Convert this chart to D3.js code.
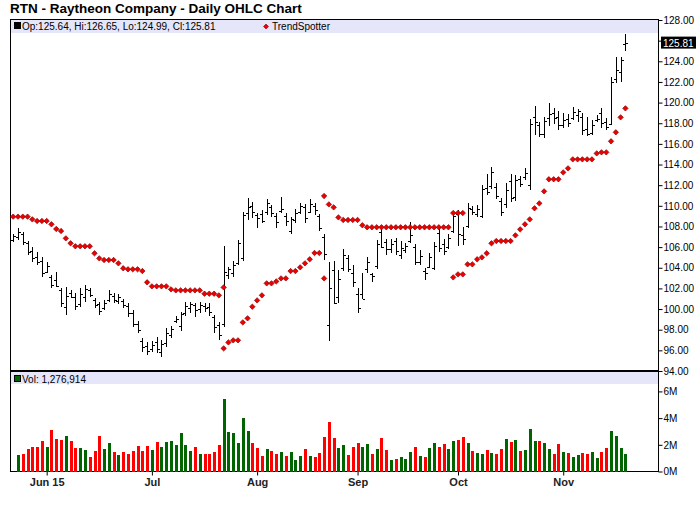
<!DOCTYPE html>
<html>
<head>
<meta charset="utf-8">
<script src="https://cdn.jsdelivr.net/npm/d3@7"></script>
<style>
  body { margin: 0; background: #fff; }
  text { font-family: "Liberation Sans", Arial, sans-serif; }
</style>
</head>
<body>
<script>
// RTN daily OHLC, 2015-05-20 .. 2015-11-19
var firstDay = new Date(2015, 4, 20),
    lastDay = new Date(2015, 10, 19);
var holidays = ["2015-05-25", "2015-07-03", "2015-09-07"];

var opens = [
  106.7, 107.0, 107.3, 106.4, 105.6, 105.0, 104.7, 103.6, 103.1, 102.8,
  101.8, 100.2, 101.6, 101.2, 100.5, 101.2, 101.8, 100.9, 100.5, 100.1,
  100.9, 101.3, 100.8, 100.8, 100.3, 99.6, 98.6, 96.9, 96.4, 96.1,
  96.8, 95.8, 96.7, 97.5, 98.8, 98.4, 99.6, 100.1, 100.4, 100.0,
  100.3, 100.2, 99.2, 98.5, 98.6, 103.3, 103.5, 104.5, 104.9, 109.3,
  110.0, 109.1, 109.2, 109.4, 109.9, 109.0, 109.5, 109.0, 107.6, 108.6,
  109.4, 109.9, 109.4, 110.0, 109.0, 107.0, 98.5, 103.8, 101.2, 104.0,
  104.9, 103.5, 101.5, 101.5, 103.9, 103.4, 104.2, 107.5, 106.5, 105.8,
  106.6, 105.2, 105.7, 106.6, 106.0, 104.6, 103.7, 104.1, 104.0, 107.4,
  106.3, 106.0, 107.6, 109.2, 107.2, 108.0, 109.7, 109.2, 109.0, 111.7,
  111.9, 111.8, 110.5, 110.2, 112.4, 110.9, 112.6, 112.8, 112.0, 118.6,
  117.8, 117.0, 118.5, 119.0, 118.6, 117.8, 118.4, 118.5, 118.8, 118.6,
  117.4, 117.1, 118.3, 119.0, 118.1, 117.9, 122.3, 123.0, 125.64
];
var highs = [
  107.24, 107.82, 107.50, 106.59, 106.04, 105.56, 105.08, 104.59, 103.30, 103.62,
  102.01, 102.17, 101.85, 101.52, 102.01, 102.33, 102.01, 101.04, 100.72, 100.88,
  101.85, 101.52, 101.43, 100.95, 100.55, 99.91, 98.87, 97.16, 96.84, 96.94,
  97.32, 97.00, 98.13, 98.36, 99.32, 99.74, 100.71, 100.71, 100.62, 100.71,
  100.55, 100.55, 99.42, 98.78, 106.11, 104.10, 104.65, 106.69, 109.37, 110.72,
  110.40, 109.27, 109.59, 110.63, 110.08, 109.27, 110.89, 109.27, 108.88, 109.66,
  110.30, 110.14, 110.63, 110.24, 109.17, 107.25, 104.59, 104.65, 103.78, 105.80,
  105.24, 104.30, 102.00, 103.52, 105.00, 103.54, 106.65, 107.82, 106.79, 106.79,
  106.92, 106.60, 106.37, 108.40, 106.27, 105.72, 103.95, 105.40, 106.53, 107.89,
  106.79, 107.24, 109.50, 109.60, 107.92, 110.30, 109.98, 110.08, 112.02, 113.05,
  113.79, 112.18, 110.72, 112.18, 113.08, 112.99, 112.92, 113.70, 118.41, 119.67,
  118.09, 118.64, 119.93, 119.44, 119.19, 118.96, 118.86, 119.54, 119.35, 118.96,
  118.57, 118.31, 118.80, 119.44, 118.47, 122.51, 124.45, 124.45, 126.65
];
var lows = [
  106.46, 106.69, 106.21, 105.24, 104.59, 104.27, 103.14, 103.46, 102.01, 102.17,
  100.23, 99.42, 101.04, 99.91, 100.23, 100.72, 101.20, 100.07, 99.42, 99.91,
  100.72, 100.56, 100.46, 100.07, 99.26, 98.29, 97.65, 95.87, 95.55, 95.87,
  95.71, 95.39, 96.35, 97.16, 98.68, 97.90, 99.32, 99.58, 99.26, 99.65,
  99.74, 99.32, 97.65, 97.00, 98.29, 102.88, 103.14, 104.27, 104.69, 108.63,
  108.79, 107.88, 108.37, 109.11, 108.88, 107.82, 109.27, 108.08, 107.24, 108.30,
  109.17, 108.37, 109.27, 109.11, 107.59, 104.78, 96.90, 100.49, 100.55, 103.70,
  103.62, 102.17, 99.65, 100.94, 103.54, 102.62, 103.85, 105.89, 105.24, 105.40,
  105.24, 104.85, 105.40, 106.37, 104.27, 104.27, 102.82, 103.95, 103.79, 105.56,
  105.24, 105.82, 107.34, 106.14, 106.21, 107.82, 109.11, 108.95, 108.85, 111.05,
  111.63, 110.66, 109.05, 109.82, 110.40, 110.47, 111.86, 112.50, 111.53, 116.86,
  116.70, 116.60, 117.76, 117.90, 117.35, 117.51, 117.67, 118.31, 118.15, 116.86,
  116.76, 116.86, 118.15, 117.51, 117.34, 117.83, 121.86, 122.03, 124.99
];
var closes = [
  107.1, 107.5, 106.5, 105.5, 104.9, 104.6, 103.5, 104.2, 102.3, 102.2,
  100.6, 101.3, 101.2, 100.3, 101.5, 101.9, 101.4, 100.4, 99.8, 100.6,
  101.5, 100.9, 101.2, 100.4, 99.6, 98.6, 98.0, 96.3, 95.9, 96.5,
  96.1, 96.6, 97.7, 98.1, 99.0, 99.5, 100.3, 100.5, 99.9, 100.4,
  100.1, 99.7, 98.3, 97.5, 103.6, 103.9, 104.3, 106.4, 109.1, 109.9,
  109.4, 108.8, 108.5, 110.3, 109.3, 108.4, 109.7, 108.5, 108.7, 109.3,
  110.0, 108.8, 110.2, 109.6, 107.9, 105.3, 102.0, 100.6, 102.9, 105.2,
  103.9, 102.6, 100.1, 101.0, 104.6, 103.2, 106.3, 106.0, 105.8, 106.3,
  105.6, 105.9, 106.1, 107.2, 104.6, 105.1, 103.5, 105.0, 106.1, 105.9,
  105.6, 106.9, 109.0, 107.3, 106.8, 109.8, 109.4, 109.7, 111.6, 111.3,
  113.3, 111.0, 109.4, 111.5, 110.8, 112.5, 112.1, 113.2, 117.9, 118.1,
  117.0, 118.2, 118.9, 118.5, 117.8, 118.3, 118.0, 119.1, 119.2, 117.3,
  117.0, 117.8, 118.4, 118.0, 117.6, 122.0, 123.2, 124.1, 125.81
];
// volume in millions of shares (first day not shown)
var volumes = [
  null, 1.24, 1.31, 1.69, 1.84, 1.84, 2.28, 1.84, 3.11, 2.43,
  2.36, 2.66, 2.28, 1.76, 1.76, 1.61, 1.09, 1.54, 2.66, 1.69,
  2.13, 1.46, 1.24, 1.46, 1.31, 1.54, 1.91, 1.54, 1.91, 1.61,
  2.21, 1.84, 2.21, 2.28, 1.99, 2.88, 1.99, 1.54, 1.84, 1.31,
  1.31, 1.31, 1.46, 1.99, 5.43, 2.96, 2.88, 2.13, 4.01, 3.03,
  2.13, 1.76, 1.16, 1.69, 1.54, 1.31, 1.46, 1.16, 1.46, 0.86,
  1.16, 1.69, 1.16, 1.09, 1.39, 2.58, 3.71, 2.51, 1.76, 1.99,
  1.24, 1.84, 2.13, 1.84, 2.06, 1.31, 1.69, 2.51, 1.61, 0.86,
  0.93, 1.09, 0.93, 1.46, 1.84, 1.16, 1.09, 1.76, 2.13, 1.84,
  2.06, 1.69, 2.28, 2.36, 2.58, 2.13, 1.54, 1.39, 1.31, 1.61,
  1.39, 1.31, 1.69, 2.43, 2.21, 2.36, 1.54, 1.61, 3.18, 2.28,
  2.28, 2.13, 1.69, 1.31, 2.06, 1.46, 1.39, 1.09, 1.24, 1.39,
  1.31, 1.46, 1.01, 1.46, 1.76, 3.03, 2.66, 1.76, 1.276914
];
var trendSpotter = [
  108.95, 108.95, 108.95, 108.95, 108.69, 108.53, 108.53, 108.53, 108.21, 107.76,
  107.56, 106.85, 106.37, 106.08, 106.08, 106.08, 106.08, 105.40, 104.91, 104.75,
  104.75, 104.75, 104.43, 103.95, 103.85, 103.85, 103.85, 103.68, 102.59, 102.20,
  102.20, 102.20, 102.20, 101.91, 101.81, 101.81, 101.81, 101.81, 101.81, 101.81,
  101.49, 101.49, 101.49, 101.33, 96.19, 96.77, 96.97, 96.97, 98.71, 99.10,
  100.23, 100.84, 101.33, 102.49, 102.49, 102.68, 102.97, 102.97, 103.68, 103.68,
  104.04, 104.43, 104.82, 105.43, 105.43, 110.95, 110.14, 109.85, 108.88, 108.63,
  108.63, 108.63, 108.63, 108.12, 107.92, 107.92, 107.92, 107.92, 107.92, 107.92,
  107.92, 107.92, 107.92, 107.92, 107.92, 107.92, 107.92, 107.92, 107.92, 107.92,
  107.92, 107.92, 103.07, 103.36, 103.36, 104.33, 104.33, 104.82, 105.01, 105.40,
  106.37, 106.59, 106.59, 106.59, 106.59, 107.14, 107.72, 108.21, 108.69, 109.76,
  110.24, 111.40, 112.57, 112.57, 112.57, 113.24, 113.63, 114.50, 114.50, 114.50,
  114.50, 114.50, 115.08, 115.18, 115.18, 116.25, 117.12, 118.57, 119.44
];
// extra stop points drawn on the days the signal flips: [day index, value]
var trendSpotterFlip = [[44, 102.10], [65, 102.97], [92, 109.30], [93, 109.30], [94, 109.30]];

var priceTicks = d3.range(94, 128.01, 2);
var volTicks = [0, 2, 4, 6];

// trading days
var hol = new Set(holidays);
var fmtKey = d3.timeFormat("%Y-%m-%d");
var dates = d3.timeDay.range(firstDay, d3.timeDay.offset(lastDay, 1))
    .filter(function(d) { return d.getDay() !== 0 && d.getDay() !== 6 && !hol.has(fmtKey(d)); });

var bars = dates.map(function(d, i) {
  return { date: d, i: i, o: opens[i], h: highs[i], l: lows[i], c: closes[i], v: volumes[i], t: trendSpotter[i] };
});

var width = 700,
    height = 512;
var leftX = 10, rightX = 658;
var topY = 20, priceBottom = 371, volBottom = 471.5;

var svg = d3.select('body').append('svg')
    .attr('width', width)
    .attr('height', height);

var x = d3.scaleLinear().domain([0, dates.length - 1]).range([13.2, 625.4]);
var y = d3.scaleLinear().domain([94, 128]).range([priceBottom, topY]);
var yv = d3.scaleLinear().domain([0, 7.5]).range([volBottom, priceBottom + 0.4]);

function px(v) { return Math.round(v) + 0.5; }

// title
svg.append('text')
    .attr('x', 10)
    .attr('y', 13)
    .attr('font-size', 13.5)
    .attr('font-weight', 'bold')
    .text('RTN - Raytheon Company - Daily OHLC Chart');

// legend bands
svg.append('rect')
    .attr('x', leftX + 1).attr('y', topY)
    .attr('width', rightX - leftX - 1).attr('height', 13)
    .attr('fill', '#e6e6fa');
svg.append('rect')
    .attr('x', leftX + 1).attr('y', priceBottom + 1)
    .attr('width', rightX - leftX - 1).attr('height', 12)
    .attr('fill', '#e6e6fa');

// frame
var frame = svg.append('g')
    .attr('stroke', '#000')
    .attr('shape-rendering', 'crispEdges');
frame.append('line').attr('x1', leftX).attr('x2', rightX + 1).attr('y1', topY - 0.5).attr('y2', topY - 0.5);
frame.append('line').attr('x1', leftX + 0.5).attr('x2', leftX + 0.5).attr('y1', topY - 1).attr('y2', volBottom + 0.5);
frame.append('line').attr('x1', rightX + 0.5).attr('x2', rightX + 0.5).attr('y1', topY - 1).attr('y2', volBottom + 0.5);
frame.append('line').attr('x1', leftX).attr('x2', rightX + 1).attr('y1', volBottom).attr('y2', volBottom);
frame.append('line').attr('x1', leftX).attr('x2', rightX + 1).attr('y1', priceBottom).attr('y2', priceBottom)
    .attr('stroke-width', 2);

// OHLC bars
var ohlc = svg.append('g')
    .attr('stroke', '#000')
    .attr('shape-rendering', 'crispEdges');
ohlc.selectAll('line.hl')
    .data(bars)
    .enter()
    .append('line')
    .attr('class', 'hl')
    .attr('x1', function(d) { return px(x(d.i)); })
    .attr('x2', function(d) { return px(x(d.i)); })
    .attr('y1', function(d) { return y(d.h); })
    .attr('y2', function(d) { return y(d.l); });
ohlc.selectAll('line.op')
    .data(bars)
    .enter()
    .append('line')
    .attr('class', 'op')
    .attr('x1', function(d) { return px(x(d.i)) - 2.5; })
    .attr('x2', function(d) { return px(x(d.i)); })
    .attr('y1', function(d) { return px(y(d.o)); })
    .attr('y2', function(d) { return px(y(d.o)); });
ohlc.selectAll('line.cl')
    .data(bars)
    .enter()
    .append('line')
    .attr('class', 'cl')
    .attr('x1', function(d) { return px(x(d.i)); })
    .attr('x2', function(d) { return px(x(d.i)) + 2.5; })
    .attr('y1', function(d) { return px(y(d.c)); })
    .attr('y2', function(d) { return px(y(d.c)); });

// TrendSpotter diamonds
var diamond = 'M0,-2.7L2.7,0L0,2.7L-2.7,0Z';
var spots = bars.map(function(d) { return [d.i, d.t]; }).concat(trendSpotterFlip);
svg.append('g').selectAll('path')
    .data(spots)
    .enter()
    .append('path')
    .attr('d', diamond)
    .attr('transform', function(d) { return 'translate(' + x(d[0]) + ',' + y(d[1]) + ')'; })
    .attr('fill', '#ee0000')
    .attr('stroke', '#8b0000')
    .attr('stroke-width', 0.7);

// volume bars, green when the close is up from the day before
svg.append('g')
    .attr('shape-rendering', 'crispEdges')
    .selectAll('rect')
    .data(bars.filter(function(d) { return d.v != null; }))
    .enter()
    .append('rect')
    .attr('x', function(d) { return Math.round(x(d.i)) - 1; })
    .attr('y', function(d) { return yv(d.v); })
    .attr('width', 3)
    .attr('height', function(d) { return volBottom - yv(d.v); })
    .attr('fill', function(d) { return d.i > 0 && d.c >= closes[d.i - 1] ? '#006400' : '#ff0000'; });

// right price axis
var last = bars[bars.length - 1];
var priceAxis = svg.append('g')
    .attr('transform', 'translate(' + (rightX + 0.5) + ',0)')
    .call(d3.axisRight(y).tickValues(priceTicks).tickSize(4).tickPadding(1).tickFormat(d3.format('.2f')));
priceAxis.select('.domain').remove();
priceAxis.selectAll('text')
    .attr('font-size', 10)
    .attr('font-family', '"Liberation Sans", Arial, sans-serif')
    .attr('fill', '#000')
    .style('display', function(d) { return Math.abs(d - last.c) < 1.2 ? 'none' : null; });

// last close marker
svg.append('rect')
    .attr('x', rightX + 3)
    .attr('y', y(last.c) - 6)
    .attr('width', 35)
    .attr('height', 12)
    .attr('fill', '#000');
svg.append('text')
    .attr('x', rightX + 5)
    .attr('y', y(last.c) + 4)
    .attr('font-size', 10)
    .attr('fill', '#fff')
    .text(d3.format('.2f')(last.c));

// right volume axis
var volAxis = svg.append('g')
    .attr('transform', 'translate(' + (rightX + 0.5) + ',0)')
    .call(d3.axisRight(yv).tickValues(volTicks).tickSize(4).tickPadding(1).tickFormat(function(d) { return d + 'M'; }));
volAxis.select('.domain').remove();
volAxis.selectAll('text')
    .attr('font-size', 10)
    .attr('font-family', '"Liberation Sans", Arial, sans-serif')
    .attr('fill', '#000');

// month ticks along the bottom
var months = bars.filter(function(d, i) {
  return i > 0 && d.date.getMonth() !== bars[i - 1].date.getMonth();
});
var fmtFirst = d3.timeFormat('%b %y'),
    fmtMonth = d3.timeFormat('%b');
var xAxis = svg.append('g')
    .attr('transform', 'translate(0,' + volBottom + ')')
    .call(d3.axisBottom(x)
      .tickValues(months.map(function(d) { return d.i; }))
      .tickSize(4)
      .tickPadding(3)
      .tickFormat(function(v, k) { return k === 0 ? fmtFirst(dates[v]) : fmtMonth(dates[v]); }));
xAxis.select('.domain').remove();
xAxis.selectAll('text')
    .attr('font-size', 11)
    .attr('font-weight', 'bold')
    .attr('font-family', '"Liberation Sans", Arial, sans-serif')
    .attr('fill', '#222');

// legends
var fmt2 = d3.format('.2f');
svg.append('rect')
    .attr('x', 14.5).attr('y', 22.5).attr('width', 6).attr('height', 6)
    .attr('fill', '#000').attr('stroke', '#000');
svg.append('text')
    .attr('x', 22)
    .attr('y', 29.5)
    .attr('font-size', 10)
    .text('Op:' + fmt2(last.o) + ', Hi:' + fmt2(last.h) + ', Lo:' + fmt2(last.l) + ', Cl:' + fmt2(last.c));
svg.append('path')
    .attr('d', 'M0,-2.5L2.5,0L0,2.5L-2.5,0Z')
    .attr('transform', 'translate(266,26.5)')
    .attr('fill', '#ee0000')
    .attr('stroke', '#8b0000')
    .attr('stroke-width', 0.6);
svg.append('text')
    .attr('x', 272)
    .attr('y', 29.5)
    .attr('font-size', 10)
    .text('TrendSpotter');

svg.append('rect')
    .attr('x', 14.5).attr('y', 375.5).attr('width', 6).attr('height', 6)
    .attr('fill', '#006400').attr('stroke', '#000');
svg.append('text')
    .attr('x', 22)
    .attr('y', 382.5)
    .attr('font-size', 10)
    .text('Vol: ' + d3.format(',')(Math.round(last.v * 1e6)));
</script>
</body>
</html>
